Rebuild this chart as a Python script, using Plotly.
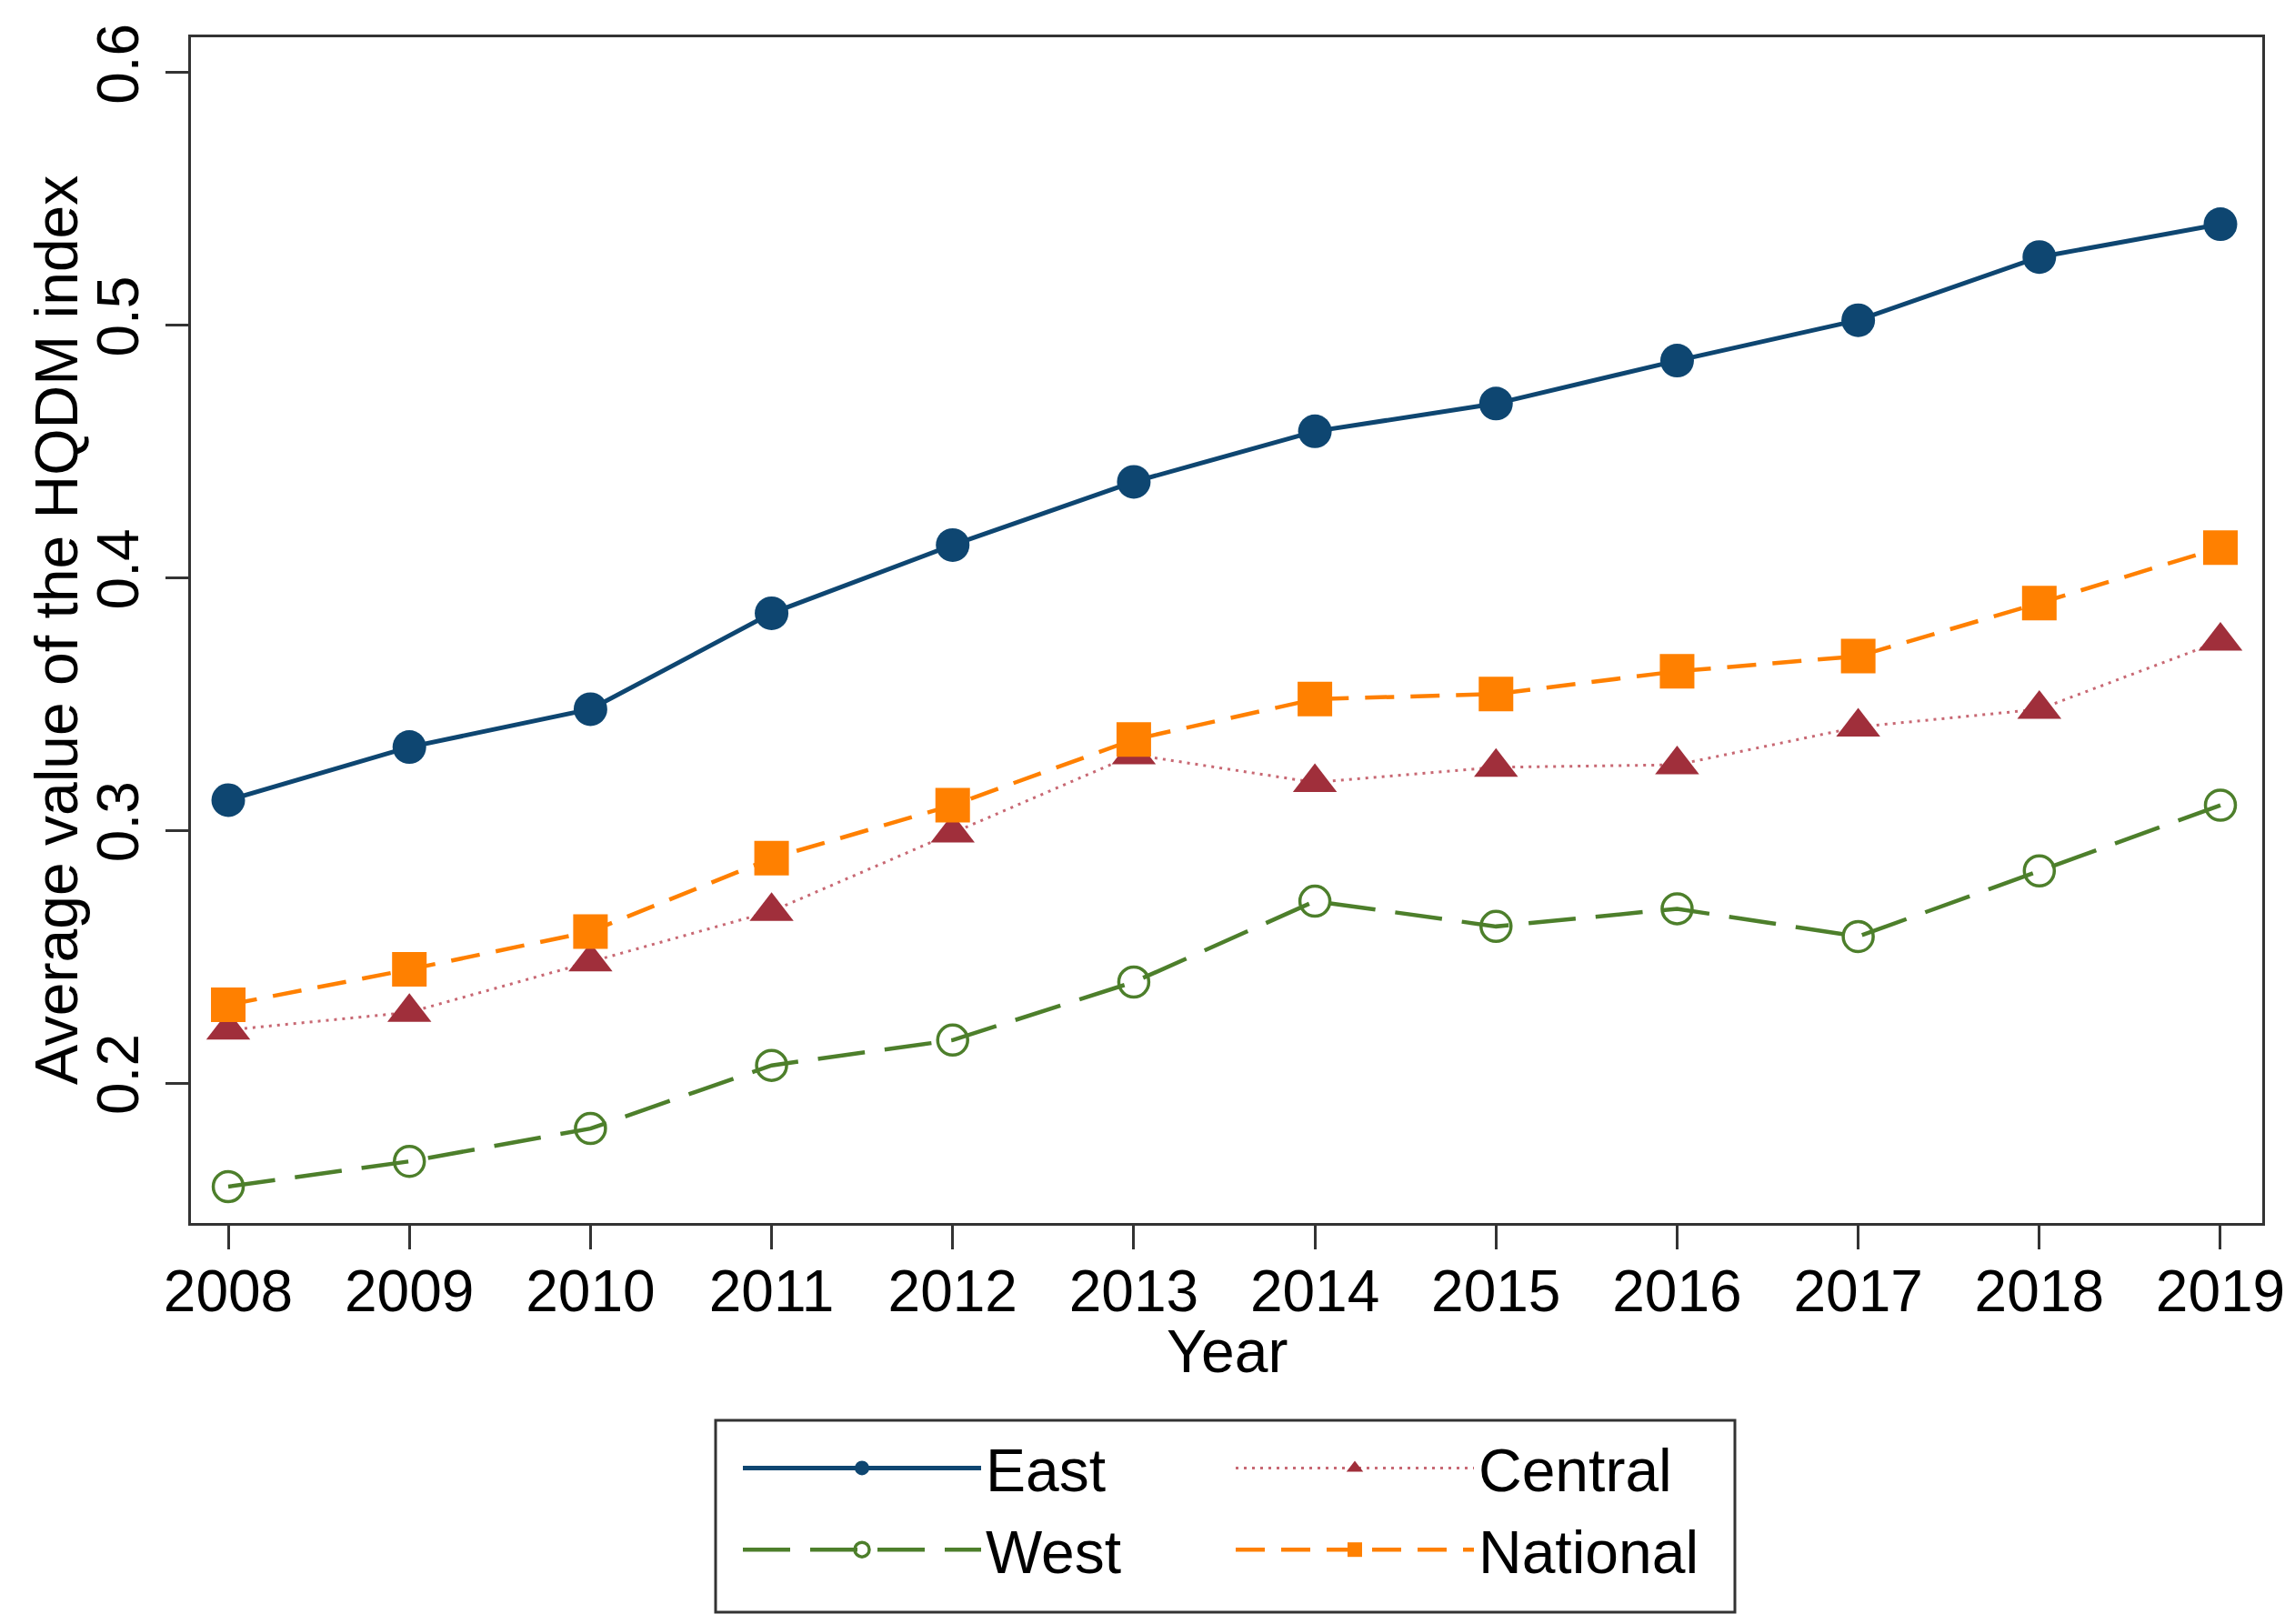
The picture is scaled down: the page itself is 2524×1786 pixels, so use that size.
import plotly.graph_objects as go

years = [2008, 2009, 2010, 2011, 2012, 2013, 2014, 2015, 2016, 2017, 2018, 2019]
east = [0.312, 0.333, 0.348, 0.386, 0.413, 0.438, 0.458, 0.469, 0.486, 0.502, 0.527, 0.540]
central = [0.221, 0.228, 0.248, 0.268, 0.299, 0.330, 0.319, 0.325, 0.326, 0.341, 0.348, 0.375]
west = [0.159, 0.169, 0.182, 0.207, 0.217, 0.240, 0.272, 0.262, 0.269, 0.258, 0.284, 0.310]
national = [0.231, 0.245, 0.260, 0.289, 0.310, 0.336, 0.352, 0.354, 0.363, 0.369, 0.390, 0.412]
y_ticks = [0.2, 0.3, 0.4, 0.5, 0.6]
x_title = "Year"
y_title = "Average value of the HQDM index"

NAVY = "#0e4671"
MAROON = "#a02f3b"
GREEN = "#4d7f2b"
ORANGE = "#ff8000"
FONT = "Liberation Sans, Arial, sans-serif"
FS = 64
FS_T = 66

fig = go.Figure()
fig.add_trace(go.Scatter(
    x=years, y=east, name="East", mode="lines+markers", legend="legend", legendgroup="e",
    line=dict(color=NAVY, width=5),
    marker=dict(symbol="circle", size=37, color=NAVY)))
fig.add_trace(go.Scatter(
    x=years, y=central, name="Central", mode="lines+markers", legend="legend2", legendgroup="c",
    line=dict(color="#c86873", width=3, dash="3px,6px"),
    marker=dict(symbol="triangle-up", size=42, color=MAROON)))
fig.add_trace(go.Scatter(
    x=years, y=west, name="West", mode="lines+markers", legend="legend", legendgroup="w",
    line=dict(color=GREEN, width=4.5, dash="52px,22px"),
    marker=dict(symbol="circle-open", size=33, color=GREEN, line=dict(width=3.5, color=GREEN))))
fig.add_trace(go.Scatter(
    x=years, y=national, name="National", mode="lines+markers", legend="legend2", legendgroup="n",
    line=dict(color=ORANGE, width=4.5, dash="32px,18px"),
    marker=dict(symbol="square", size=38, color=ORANGE)))

L, R, T, B = 202, 44, 33, 449
W, H = 2524, 1786
pw = W - L - R
ph = H - T - B

def px_x(px):
    return (px - L) / pw

def px_y(py):
    return (H - B - py) / ph

legend_common = dict(
    orientation="v", xanchor="left", yanchor="top",
    font=dict(family=FONT, size=FS_T, color="#000000"),
    bgcolor="rgba(0,0,0,0)", borderwidth=0, itemwidth=262,
    tracegroupgap=1, itemsizing="trace",
)

fig.update_layout(
    width=W, height=H,
    margin=dict(l=L, r=R, t=T, b=B, autoexpand=False),
    paper_bgcolor="white", plot_bgcolor="white",
    font=dict(family=FONT, size=FS, color="#000000"),
    legend=dict(x=px_x(804), y=px_y(1557), **legend_common),
    legend2=dict(x=px_x(1346), y=px_y(1557), **legend_common),
    xaxis=dict(
        range=[2007.794, 2019.231], tickvals=years, ticktext=[str(y) for y in years],
        showgrid=False, zeroline=False, showline=True, linecolor="#333333", linewidth=3,
        mirror=True, ticks="outside", ticklen=26, tickwidth=3, tickcolor="#333333",
        ticklabelstandoff=-9,
        tickfont=dict(family=FONT, size=FS, color="#000000"),
    ),
    yaxis=dict(
        range=[0.1446, 0.614], tickvals=y_ticks, ticktext=[f"{v:.1f}" for v in y_ticks],
        showgrid=False, zeroline=False, showline=True, linecolor="#333333", linewidth=3,
        mirror=True, ticks="outside", ticklen=25, tickwidth=3, tickcolor="#333333",
        tickangle=-90, ticklabelstandoff=4,
        tickfont=dict(family=FONT, size=FS, color="#000000"),
    ),
    annotations=[
        dict(text=x_title, xref="paper", yref="paper", x=0.5, y=px_y(1478),
             xanchor="center", yanchor="middle", showarrow=False,
             font=dict(family=FONT, size=FS_T, color="#000000")),
        dict(text=y_title, xref="paper", yref="paper", x=px_x(54), y=0.5,
             xanchor="center", yanchor="middle", showarrow=False, textangle=-90,
             font=dict(family=FONT, size=FS_T, color="#000000")),
    ],
    shapes=[dict(
        type="rect", xref="paper", yref="paper",
        x0=px_x(779), x1=px_x(1900), y0=px_y(1765), y1=px_y(1554),
        line=dict(color="#333333", width=3), fillcolor="rgba(0,0,0,0)",
    )],
)

fig.write_html("out.html")
